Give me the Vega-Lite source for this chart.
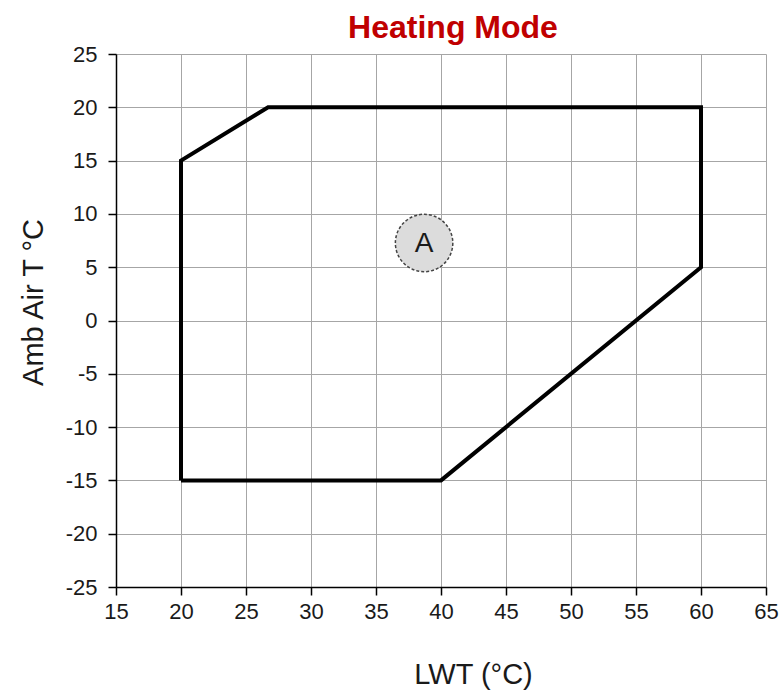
{
  "$schema": "https://vega.github.io/schema/vega-lite/v6.json",
  "width": 650,
  "height": 533,
  "autosize": "none",
  "padding": {"left": 116, "top": 54, "right": 16, "bottom": 104},
  "background": "white",
  "title": {"text": "Heating Mode", "color": "#C00000", "fontSize": 32, "font": "Liberation Sans", "fontWeight": "bold", "offset": -2, "dx": 12},
  "config": {
    "view": {"stroke": null}
  },
  "datasets": {
    "envelope": [
      {"o": 1, "lwt": 20, "amb": -15},
      {"o": 2, "lwt": 20, "amb": 15},
      {"o": 3, "lwt": 26.7, "amb": 20},
      {"o": 4, "lwt": 60, "amb": 20},
      {"o": 5, "lwt": 60, "amb": 5},
      {"o": 6, "lwt": 40, "amb": -15},
      {"o": 7, "lwt": 20, "amb": -15}
    ],
    "zone": [{"lwt": 38.7, "amb": 7.27, "label": "A"}]
  },
  "layer": [
    {
      "data": {"name": "envelope"},
      "mark": {"type": "line", "color": "#000", "strokeWidth": 4, "strokeJoin": "miter"},
      "encoding": {
        "x": {"field": "lwt", "type": "quantitative", "scale": {"domain": [15, 65], "nice": false, "zero": false},
          "axis": {"values": [15,20,25,30,35,40,45,50,55,60,65], "title": "LWT (°C)", "titleX": 357, "titlePadding": 38, "labelPadding": 6, "labelFlush": false, "labelOverlap": false,
            "labelExpr": "'' + datum.value",
            "labelFont": "Liberation Sans", "titleFont": "Liberation Sans", "labelFontSize": 22, "titleFontSize": 29, "labelColor": "#1a1a1a", "titleColor": "#1a1a1a", "titleFontWeight": "normal",
            "gridColor": "#a6a6a6", "gridWidth": 1, "gridOpacity": 1, "domainColor": "#000", "domainWidth": 1.5, "tickColor": "#000", "tickWidth": 1.5, "tickSize": 8}},
        "y": {"field": "amb", "type": "quantitative", "scale": {"domain": [-25, 25], "nice": false, "zero": false},
          "axis": {"values": [-25,-20,-15,-10,-5,0,5,10,15,20,25], "title": "Amb Air T °C", "titleY": 248, "titlePadding": 17, "labelPadding": 11, "labelFlush": false, "labelOverlap": false,
            "labelExpr": "'' + datum.value",
            "labelFont": "Liberation Sans", "titleFont": "Liberation Sans", "labelFontSize": 22, "titleFontSize": 29, "labelColor": "#1a1a1a", "titleColor": "#1a1a1a", "titleFontWeight": "normal",
            "gridColor": "#a6a6a6", "gridWidth": 1, "gridOpacity": 1, "domainColor": "#000", "domainWidth": 1.5, "tickColor": "#000", "tickWidth": 1.5, "tickSize": 8}},
        "order": {"field": "o", "type": "quantitative"}
      }
    },
    {
      "data": {"name": "zone"},
      "mark": {"type": "point", "shape": "circle", "filled": true, "fill": "#dcdcdc", "stroke": "#444", "strokeWidth": 1.5, "strokeDash": [3, 2], "size": 3300, "opacity": 1},
      "encoding": {
        "x": {"field": "lwt", "type": "quantitative"},
        "y": {"field": "amb", "type": "quantitative"}
      }
    },
    {
      "data": {"name": "zone"},
      "mark": {"type": "text", "font": "Liberation Sans", "fontSize": 28, "color": "#1a1a1a", "baseline": "middle", "align": "center", "dy": 1},
      "encoding": {
        "x": {"field": "lwt", "type": "quantitative"},
        "y": {"field": "amb", "type": "quantitative"},
        "text": {"field": "label"}
      }
    }
  ]
}
